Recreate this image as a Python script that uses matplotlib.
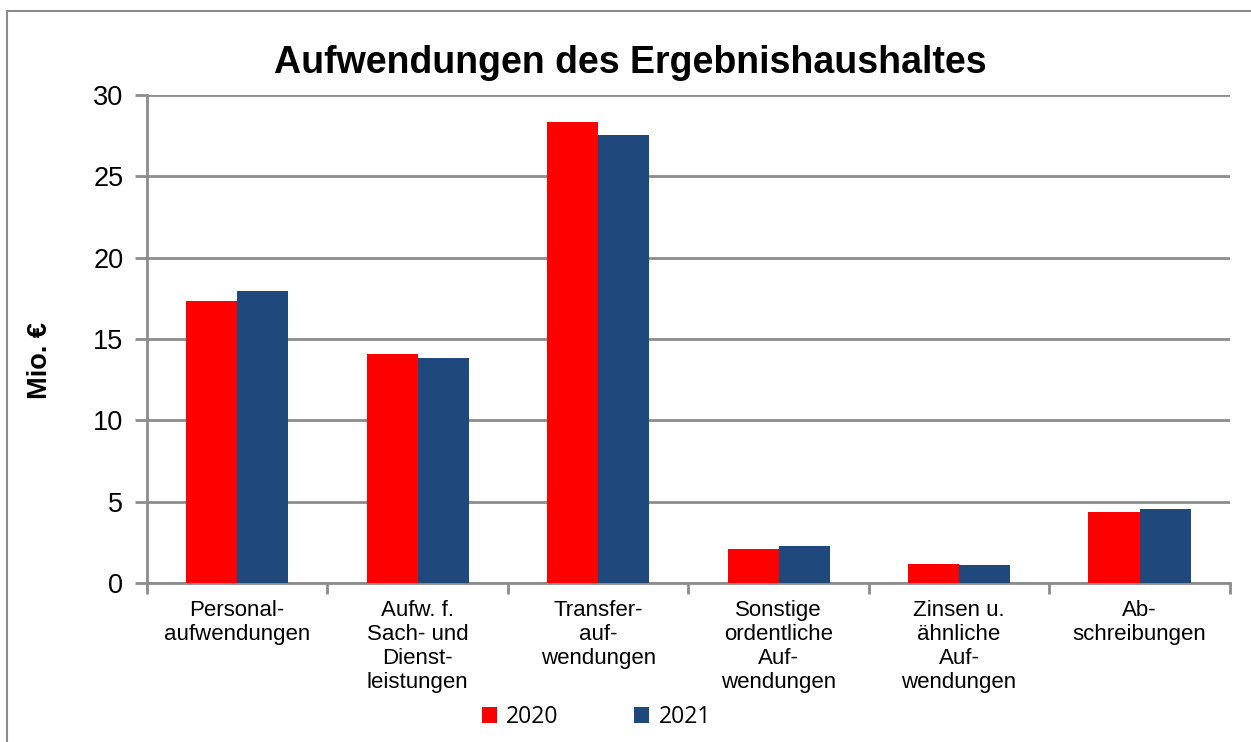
import numpy as np
import matplotlib
matplotlib.use("Agg")
import matplotlib.pyplot as plt
from matplotlib.patches import Rectangle

# Daten (Mio. €)
categories = [
    "Personal-\naufwendungen",
    "Aufw. f.\nSach- und\nDienst-\nleistungen",
    "Transfer-\nauf-\nwendungen",
    "Sonstige\nordentliche\nAuf-\nwendungen",
    "Zinsen u.\nähnliche\nAuf-\nwendungen",
    "Ab-\nschreibungen",
]
values_2020 = [17.35, 14.07, 28.33, 2.09, 1.17, 4.36]
values_2021 = [17.95, 13.83, 27.54, 2.27, 1.11, 4.55]
years = ["2020", "2021"]

RED = "#FF0000"
BLUE = "#1F497D"
GRID = "#8C8C8C"

plt.rcParams["font.family"] = ["Liberation Sans", "DejaVu Sans"]

fig = plt.figure(figsize=(12.51, 7.42), dpi=100)
ax = fig.add_axes([0.1175, 0.2143, 0.8655, 0.6577])

# Rahmen um das Diagramm
fig.patches.append(Rectangle((7 / 1251, -0.1), 1.2, 1 - 11 / 742 + 0.1,
                             transform=fig.transFigure, fill=False,
                             edgecolor=GRID, linewidth=1.5))

x = np.arange(len(categories))
w = 0.283
ax.bar(x - w / 2, values_2020, w, color=RED, label=years[0], zorder=3)
ax.bar(x + w / 2, values_2021, w, color=BLUE, label=years[1], zorder=3)

ax.set_xlim(-0.5, len(categories) - 0.5)
ax.set_ylim(0, 30)
ax.set_yticks(range(0, 31, 5))
ax.yaxis.grid(True, color=GRID, linewidth=2)
ax.set_axisbelow(True)

# Striche an den Kategoriegrenzen, Beschriftung in der Mitte
ax.set_xticks(np.arange(-0.5, len(categories), 1.0))
ax.set_xticklabels([])
ax.set_xticks(x, minor=True)
ax.set_xticklabels(categories, minor=True, fontsize=16, linespacing=1.2)
ax.tick_params(axis="x", which="major", length=8, width=2, color=GRID, direction="out")
ax.tick_params(axis="x", which="minor", length=0, pad=12)
ax.tick_params(axis="y", length=9, width=2, color=GRID, labelsize=19.5, pad=8)

for side in ["top", "right"]:
    ax.spines[side].set_visible(False)
for side in ["left", "bottom"]:
    ax.spines[side].set_color(GRID)
    ax.spines[side].set_linewidth(2)

ax.set_ylabel("Mio. €", fontsize=19.5, fontweight="bold")
ax.yaxis.set_label_coords(-0.0867, 0.455)
fig.text(0.504, 0.915, "Aufwendungen des Ergebnishaushaltes",
         ha="center", va="center", fontsize=27, fontweight="bold")

fig.legend(loc="center", bbox_to_anchor=(0.4768, 0.0337), ncol=2, frameon=False,
           prop={"family": "Open Sans", "size": 16.5}, handlelength=0.65,
           handleheight=0.65, handletextpad=0.4, columnspacing=3.3)

fig.savefig("out.png", dpi=100)
